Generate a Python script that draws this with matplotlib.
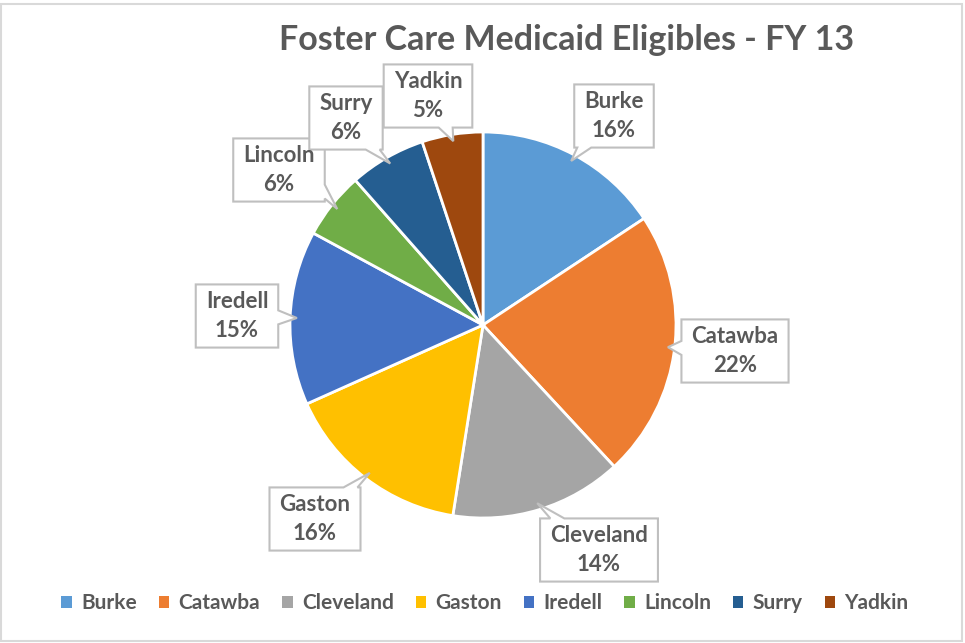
"""Foster Care Medicaid Eligibles - FY 13 pie chart with callout labels."""

import matplotlib

matplotlib.use("Agg")
import matplotlib.pyplot as plt
from matplotlib.patches import Patch, Polygon, Rectangle
import numpy as np

counties = ["Burke", "Catawba", "Cleveland", "Gaston", "Iredell", "Lincoln", "Surry", "Yadkin"]
shares = [15.7, 22.4, 14.4, 15.8, 14.6, 5.6, 6.4, 5.1]
colors = ["#5B9BD5", "#ED7D31", "#A5A5A5", "#FFC000", "#4472C4", "#70AD47", "#255E91", "#9E480E"]
title = "Foster Care Medicaid Eligibles - FY 13"

# callout box centres, in figure pixels (y down)
label_pos = [(614, 116), (735, 351), (599, 550), (315, 519),
             (237, 316), (279, 170), (346, 118), (428, 96)]

_INK = "#595959"
_BORDER = "#D9D9D9"
_BOX = "#BFBFBF"
plt.rcParams["font.family"] = ["Lato", "DejaVu Sans"]


def callout(x0, y0, x1, y1, tip, base=14):
    """Box outline with a wedge pointer toward ``tip`` (y grows downward)."""
    cx, cy = (x0 + x1) / 2, (y0 + y1) / 2
    dx, dy = tip[0] - cx, tip[1] - cy
    hw, hh = (x1 - x0) / 2, (y1 - y0) / 2
    m = base / 2 + 3
    if abs(dx) / hw > abs(dy) / hh:
        by = np.clip(cy + dy * hw / abs(dx), y0 + m, y1 - m)
        if dx > 0:
            verts = [(x0, y0), (x1, y0), (x1, by - base / 2), tip,
                     (x1, by + base / 2), (x1, y1), (x0, y1)]
        else:
            verts = [(x0, y0), (x1, y0), (x1, y1), (x0, y1),
                     (x0, by + base / 2), tip, (x0, by - base / 2)]
    else:
        bx = np.clip(cx + dx * hh / abs(dy), x0 + m, x1 - m)
        if dy > 0:
            verts = [(x0, y0), (x1, y0), (x1, y1), (bx + base / 2, y1), tip,
                     (bx - base / 2, y1), (x0, y1)]
        else:
            verts = [(x0, y0), (bx - base / 2, y0), tip, (bx + base / 2, y0),
                     (x1, y0), (x1, y1), (x0, y1)]
    return verts


fig = plt.figure(figsize=(9.65, 6.43), dpi=100)
ax = fig.add_axes([0, 0, 1, 1])

center = (483, 325)
radius = 193
# y axis is inverted below, so data angle -90 is the top and counterclock runs clockwise
wedges, _ = ax.pie(
    shares,
    colors=colors,
    center=center,
    radius=radius,
    startangle=-90,
    counterclock=True,
    wedgeprops=dict(edgecolor="white", linewidth=2),
    frame=True,
)
ax.set_xlim(0, 965)
ax.set_ylim(643, 0)
ax.set_aspect("equal")
ax.axis("off")

total = sum(shares)
labels = []
for name, value, pos in zip(counties, shares, label_pos):
    t = ax.text(pos[0], pos[1], f"{name}\n{value / total * 100:.0f}%",
                ha="center", va="center", fontsize=16, fontweight="bold",
                color=_INK, linespacing=1.42, zorder=5)
    labels.append(t)

fig.canvas.draw()
renderer = fig.canvas.get_renderer()
inv = ax.transData.inverted()
for wedge, t in zip(wedges, labels):
    bb = t.get_window_extent(renderer)
    (x0, y1), (x1, y0) = inv.transform([(bb.x0, bb.y0), (bb.x1, bb.y1)])
    x0, x1, y0, y1 = x0 - 10, x1 + 10, y0 - 7, y1 + 7
    mid = np.deg2rad((wedge.theta1 + wedge.theta2) / 2)
    tip = (center[0] + 0.965 * radius * np.cos(mid),
           center[1] + 0.965 * radius * np.sin(mid))
    ax.add_patch(Polygon(callout(x0, y0, x1, y1, tip), closed=True, fc="white",
                         ec=_BOX, lw=1.5, joinstyle="miter", zorder=4))

ax.text(567, 40, title, ha="center", va="center", fontsize=24.5,
        fontweight="bold", color=_INK)

fig.patches.append(Rectangle((1, 2), 961, 637, transform=None, fill=False,
                             ec=_BORDER, lw=1.5))

handles = [Patch(facecolor=c, edgecolor="none") for c in colors]
fig.legend(
    handles,
    counties,
    loc="center",
    bbox_to_anchor=(485 / 965, 1 - 603 / 643),
    ncol=len(counties),
    frameon=False,
    handlelength=0.5,
    handleheight=0.5,
    handletextpad=0.45,
    columnspacing=1.05,
    prop=dict(size=15, weight="bold"),
    labelcolor=_INK,
)

fig.savefig("out.png", dpi=100, facecolor="white")
